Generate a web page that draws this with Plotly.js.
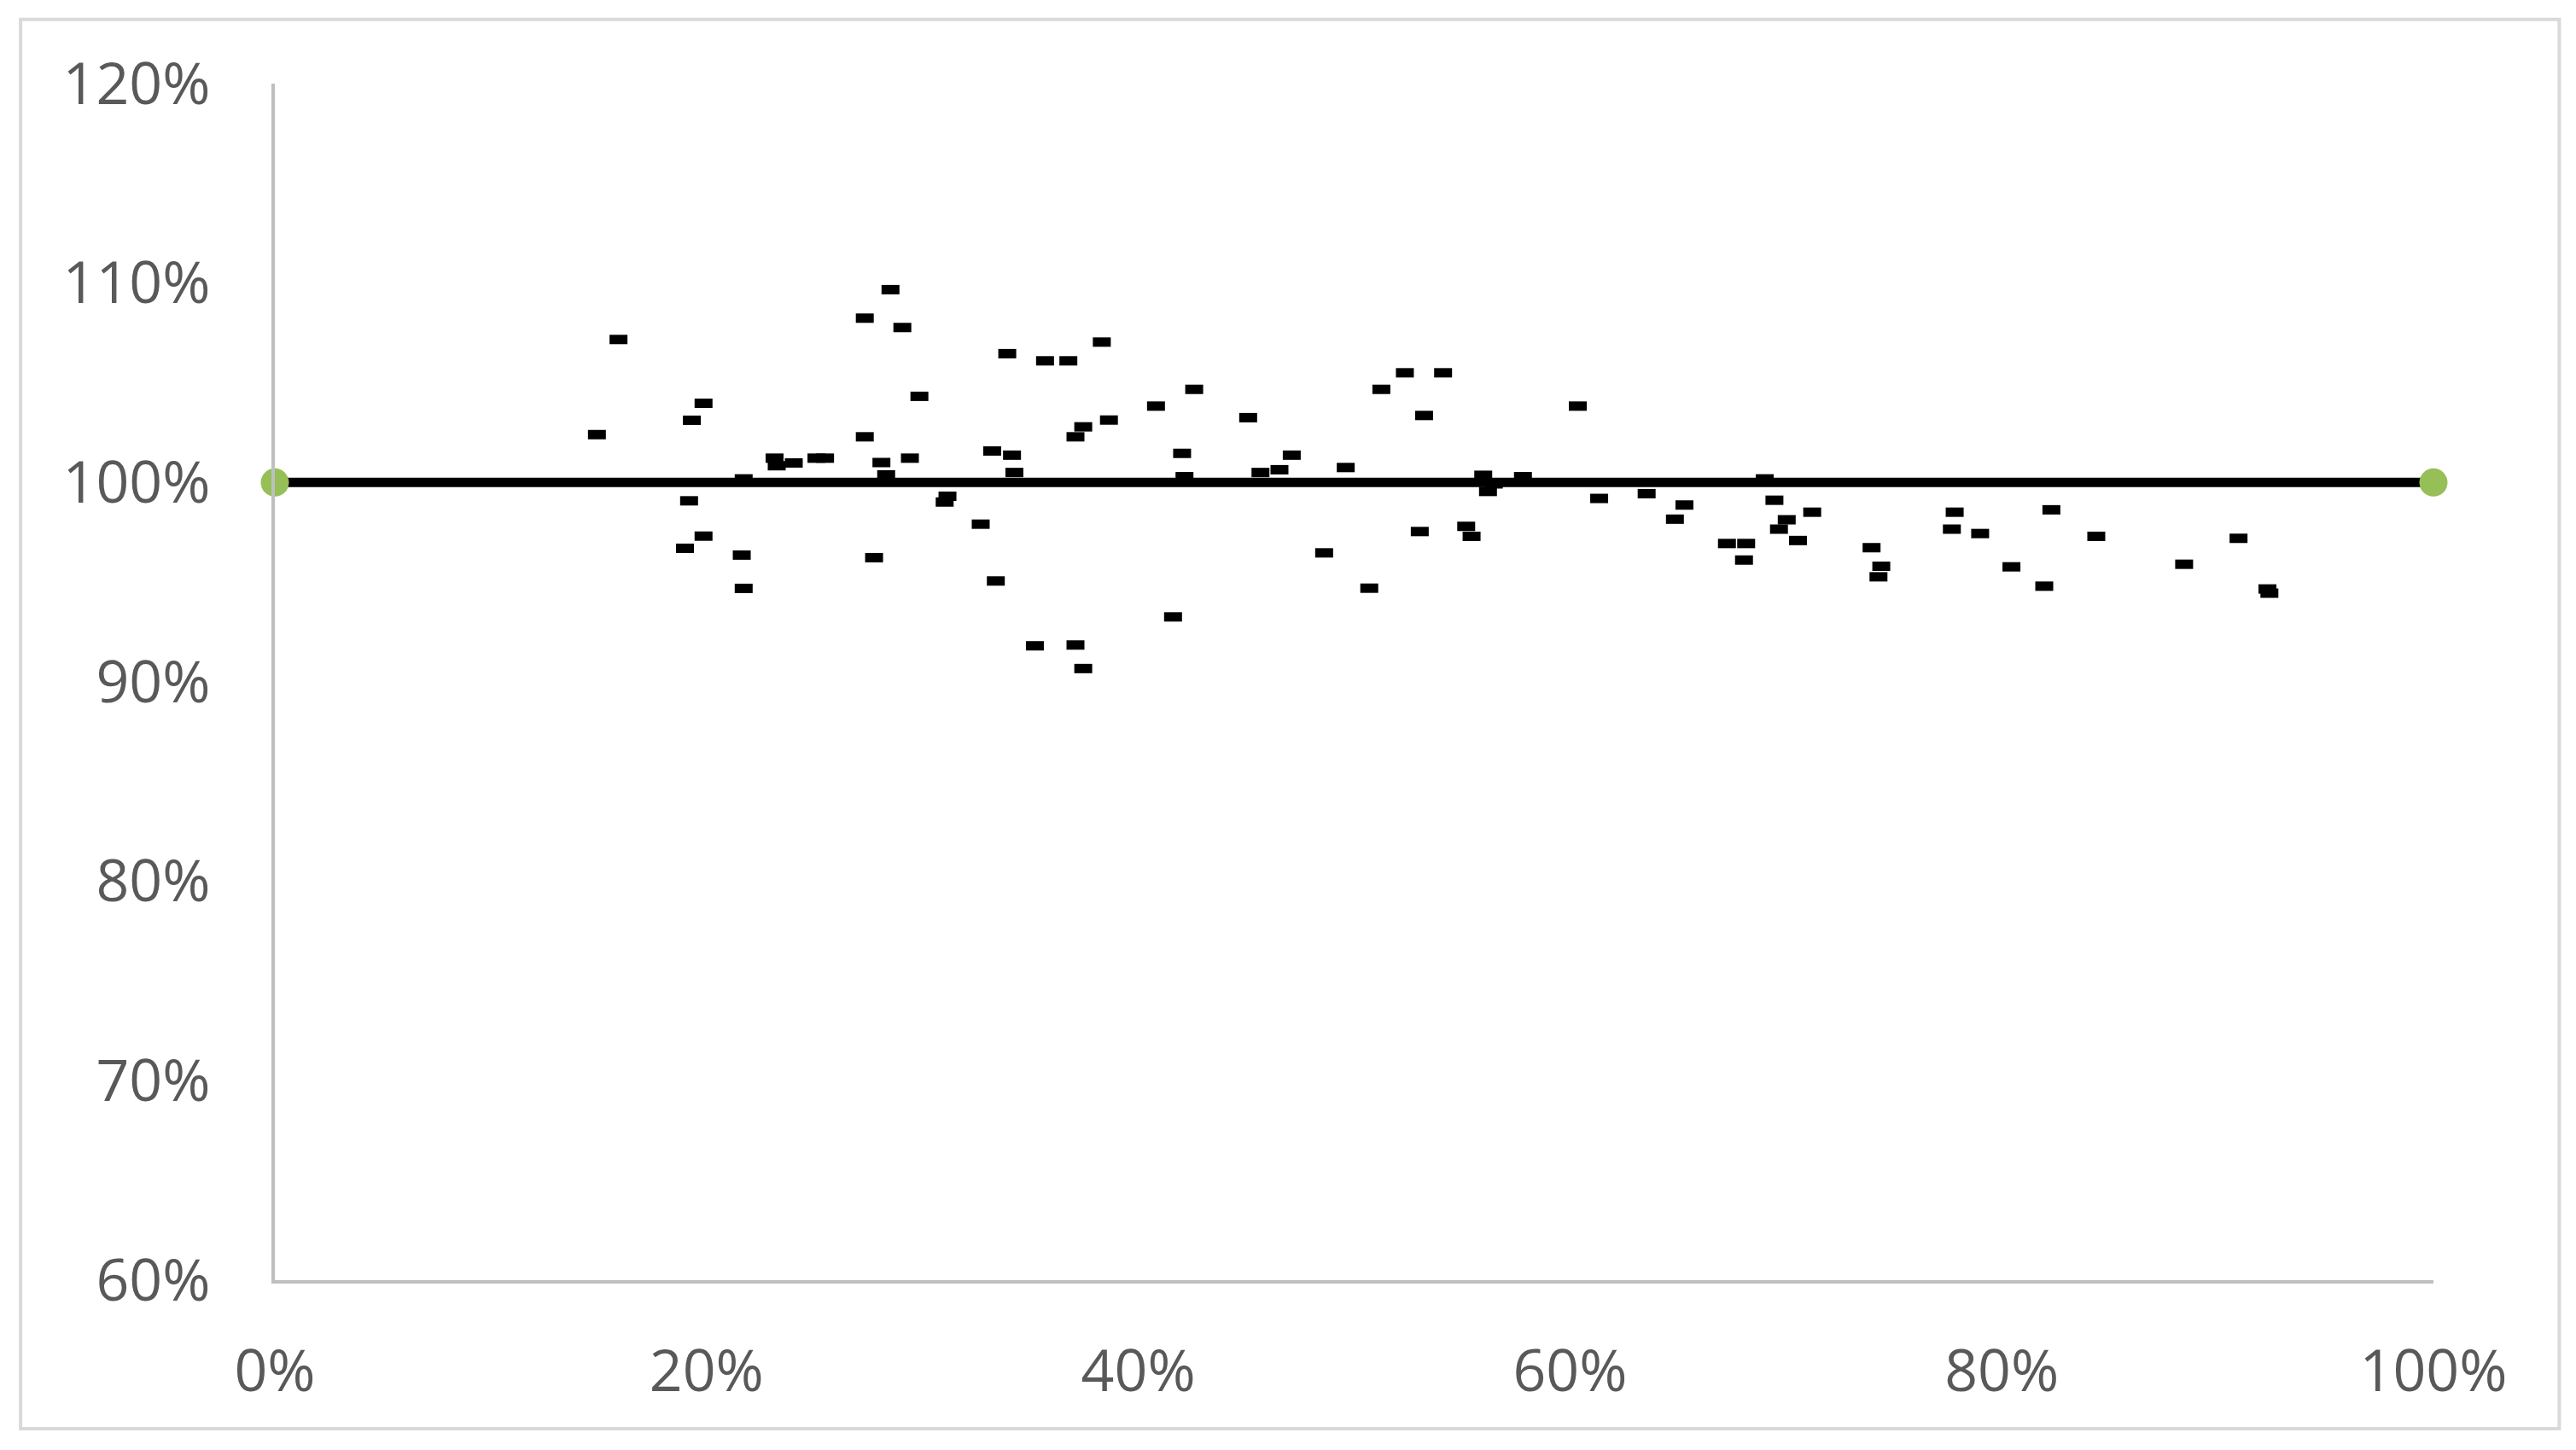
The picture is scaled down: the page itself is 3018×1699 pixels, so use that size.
<!DOCTYPE html>
<html>
<head>
<meta charset="utf-8">
<script src="https://cdn.plot.ly/plotly-3.0.1.min.js"></script>
<style>
  html, body { margin: 0; padding: 0; background: #fff; }
  #chart { width: 3018px; height: 1699px; }
</style>
</head>
<body>
<div id="chart"></div>
<script>
// scatter points, x and y in percent
var xVals = [
  14.92, 15.92, 19.00, 19.19, 19.32, 19.86, 19.86, 21.63, 21.72, 21.72,
  23.15, 23.25, 24.04, 25.09, 25.49, 27.33, 27.33, 27.76, 28.10, 28.32,
  28.52, 29.07, 29.42, 29.86, 31.03, 31.16, 32.70, 33.23, 33.40,
  33.93, 34.15, 34.26, 35.21, 35.68, 36.76, 37.09, 37.09, 37.45, 37.45,
  38.31, 38.64, 40.82, 41.61, 42.03, 42.14, 42.59, 45.09, 45.66, 46.54,
  47.11, 48.61, 49.61, 50.70, 51.26, 52.35, 53.04, 53.24,
  54.12, 55.19, 55.44, 55.98, 56.20, 56.47, 57.82, 60.36, 61.35, 63.55,
  64.86, 65.30, 67.27, 68.06, 68.16, 69.02, 69.47, 69.68, 70.04, 70.56, 71.22,
  73.97, 74.29, 74.42, 77.69, 77.82, 79.00, 80.45, 81.97, 82.30, 84.38,
  88.45, 90.97, 92.31, 92.40
];
var yVals = [
  102.40, 107.17, 96.70, 99.08, 103.12, 103.97, 97.31, 96.36, 94.69, 100.18,
  101.22, 100.84, 100.98, 101.22, 101.22, 108.24, 102.29, 96.23, 101.00, 100.38,
  109.67, 107.77, 101.22, 104.32, 99.02, 99.31, 97.91, 101.58, 95.06,
  106.46, 101.37, 100.50, 91.81, 106.10, 106.10, 102.29, 91.85, 102.79, 90.67,
  107.04, 103.13, 103.83, 93.26, 101.46, 100.29, 104.67, 103.25, 100.50, 100.64,
  101.37, 96.47, 100.75, 94.70, 104.67, 105.50, 97.54, 103.36,
  105.50, 97.80, 97.30, 100.36, 99.55, 99.93, 100.29, 103.83, 99.20, 99.44,
  98.16, 98.87, 96.94, 96.11, 96.94, 100.18, 99.11, 97.66, 98.13, 97.09, 98.51,
  96.73, 95.27, 95.80, 97.66, 98.51, 97.44, 95.77, 94.80, 98.63, 97.30,
  95.90, 97.20, 94.66, 94.45
];

// reference line at 100%
var refX = [0, 100];
var refY = [100, 100];

var xTickVals = [0, 20, 40, 60, 80, 100];
var xTickText = ['0%', '20%', '40%', '60%', '80%', '100%'];
var yTickVals = [60, 70, 80, 90, 100, 110, 120];
var yTickText = ['60%', '70%', '80%', '90%', '100%', '110%', '120%'];

var refTrace = {
  x: refX,
  y: refY,
  type: 'scatter',
  mode: 'lines+markers',
  line: { color: '#000000', width: 11 },
  marker: { color: '#96bf57', size: 33 },
  cliponaxis: false,
  hoverinfo: 'skip'
};

var pointTrace = {
  x: xVals,
  y: yVals,
  type: 'scatter',
  mode: 'markers',
  marker: {
    symbol: 'line-ew',
    size: 15,
    color: '#000000',
    line: { color: '#000000', width: 11 }
  },
  cliponaxis: false
};

var tickFont = { family: 'Open Sans, Lato, sans-serif', size: 68, color: '#595959' };

var layout = {
  width: 3018,
  height: 1699,
  margin: { l: 322, r: 167, t: 98, b: 199 },
  paper_bgcolor: '#ffffff',
  plot_bgcolor: '#ffffff',
  showlegend: false,
  xaxis: {
    range: [0, 100],
    tickvals: xTickVals,
    ticktext: xTickText,
    tickfont: tickFont,
    showgrid: false,
    zeroline: false,
    showline: true,
    linecolor: '#bfbfbf',
    linewidth: 4,
    ticks: '',
    ticklabelstandoff: 44,
    fixedrange: true
  },
  yaxis: {
    range: [60, 120],
    tickvals: yTickVals,
    ticktext: yTickText,
    tickfont: tickFont,
    showgrid: false,
    zeroline: false,
    showline: true,
    linecolor: '#bfbfbf',
    linewidth: 4,
    ticks: '',
    ticklabelstandoff: 58,
    fixedrange: true
  },
  shapes: [{
    type: 'rect',
    xref: 'paper', yref: 'paper',
    x0: -0.1178, x1: 1.0583,
    y0: -0.1241, y1: 1.0536,
    line: { color: '#d9d9d9', width: 4 },
    fillcolor: 'rgba(0,0,0,0)',
    layer: 'below'
  }]
};

Plotly.newPlot('chart', [refTrace, pointTrace], layout, { displayModeBar: false, staticPlot: true });
</script>
</body>
</html>
